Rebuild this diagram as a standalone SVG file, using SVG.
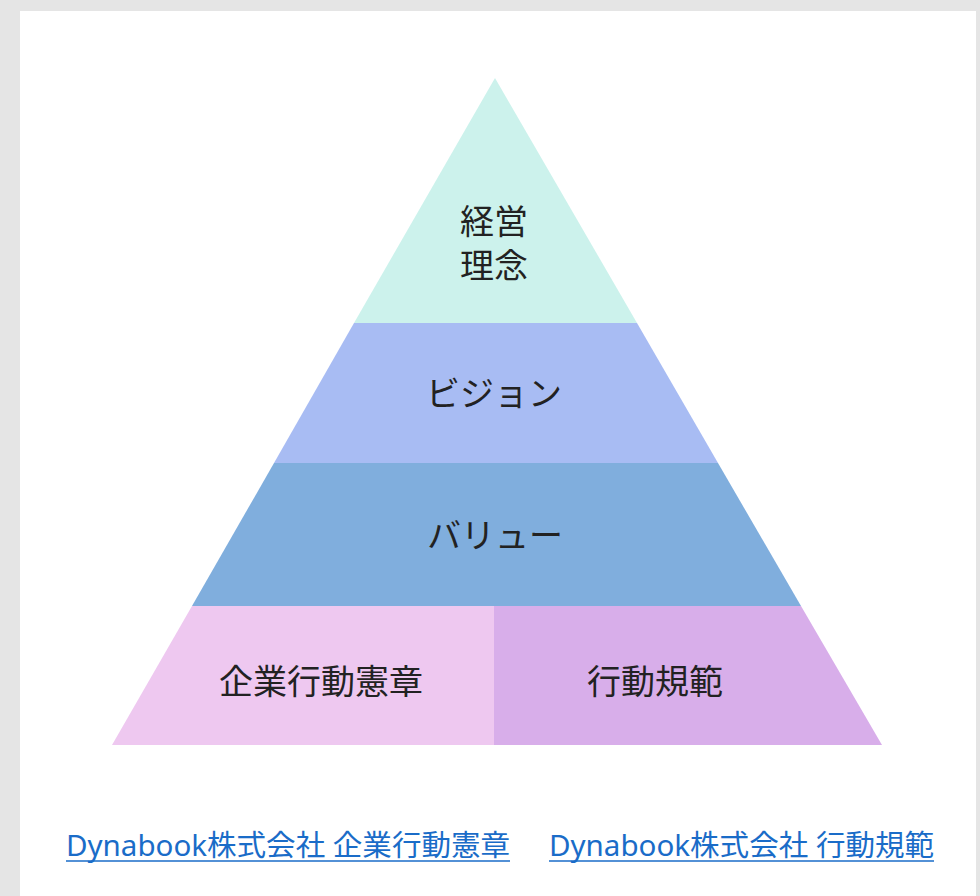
<svg xmlns="http://www.w3.org/2000/svg" width="980" height="896" viewBox="0 0 980 896">
<style>
.lbl{font-family:"Noto Sans CJK JP","Noto Sans",sans-serif;font-size:34px;fill:#222;text-anchor:middle}
.lnk{font-family:"Noto Sans","Noto Sans CJK JP",sans-serif;font-size:29px;fill:#1a6cc8}
.ul{stroke:#1a6cc8;stroke-width:1.6}
</style>
<rect x="0" y="0" width="980" height="896" fill="#e5e5e5"/>
<rect x="20" y="11" width="956" height="885" fill="#ffffff"/>
<g id="keiei-rinen">
<polygon points="495,78 637,323 354,323" fill="#ccf2ec"/>
<text class="lbl" x="494" y="234"><tspan x="494" y="234">経営</tspan><tspan x="494" y="278">理念</tspan></text>
</g>
<g id="vision">
<polygon points="354,323 637,323 718,463 274,463" fill="#a8bcf3"/>
<text class="lbl" x="494" y="406">ビジョン</text>
</g>
<g id="value">
<polygon points="274,463 718,463 801,606 192,606" fill="#80aedd"/>
<text class="lbl" x="495" y="548">バリュー</text>
</g>
<g id="kigyo-kodo-kensho">
<polygon points="192,606 494,606 494,745 112,745" fill="#eec8f0"/>
<text class="lbl" x="321" y="694">企業行動憲章</text>
</g>
<g id="kodo-kihan">
<polygon points="494,606 801,606 882,745 494,745" fill="#d8aeea"/>
<text class="lbl" x="655" y="694">行動規範</text>
</g>
<g id="links">
<text class="lnk" x="66" y="856" textLength="444" lengthAdjust="spacingAndGlyphs">Dynabook株式会社 企業行動憲章</text>
<line class="ul" x1="66" y1="861" x2="510" y2="861"/>
<text class="lnk" x="549" y="856" textLength="385" lengthAdjust="spacingAndGlyphs">Dynabook株式会社 行動規範</text>
<line class="ul" x1="549" y1="861" x2="934" y2="861"/>
</g>
</svg>
